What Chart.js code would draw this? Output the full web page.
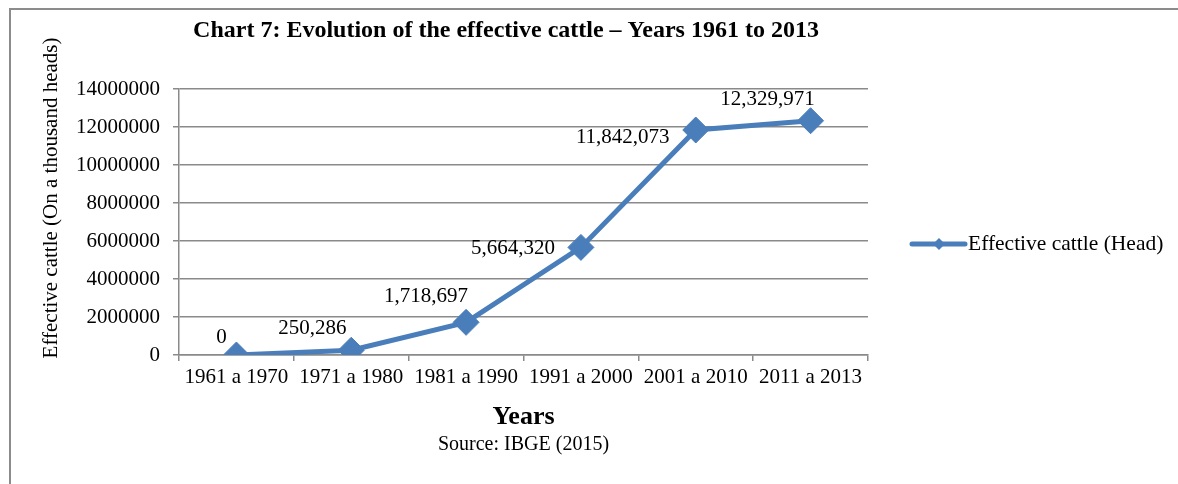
<!DOCTYPE html>
<html>
<head>
<meta charset="utf-8">
<script src="https://cdn.jsdelivr.net/npm/chart.js@4.4.1/dist/chart.umd.min.js"></script>
<style>
  html, body { margin: 0; padding: 0; background: #fff; }
  #wrap { position: relative; width: 1178px; height: 484px; }
  #frame {
    position: absolute; left: 9px; top: 8px; width: 1180px; height: 490px;
    border-left: 2px solid #8c8c8c; border-top: 2px solid #8c8c8c;
  }
  canvas { position: absolute; left: 0; top: 0; }
</style>
</head>
<body>
<div id="wrap">
  <div id="frame"></div>
  <canvas id="cattleChart" width="1178" height="484"></canvas>
</div>
<script>
const periods = ['1961 a 1970', '1971 a 1980', '1981 a 1990', '1991 a 2000', '2001 a 2010', '2011 a 2013'];
const cattleHeads = [0, 250286, 1718697, 5664320, 11842073, 12329971];
const yTicks = [0, 2000000, 4000000, 6000000, 8000000, 10000000, 12000000, 14000000];

const chartTitle = 'Chart 7: Evolution of the effective cattle \u2013 Years 1961 to 2013';
const yTitle = 'Effective cattle (On a thousand heads)';
const xTitle = 'Years';
const sourceNote = 'Source: IBGE (2015)';
const seriesName = 'Effective cattle (Head)';

const SERIF = '"Liberation Serif", "Times New Roman", serif';
const BLUE = '#4a7ebb';
const GRID = '#8a8a8a';

// where each value label sits relative to its marker
const labelShift = [[-15, -18], [-39, -22], [-40, -26], [-68, 1], [-73, 7], [-43, -21]];

const textPlugin = {
  id: 'textPlugin',
  afterDraw(chart) {
    const ctx = chart.ctx;
    const area = chart.chartArea;
    const cx = (area.left + area.right) / 2;
    ctx.save();
    ctx.fillStyle = '#000';

    ctx.font = 'bold 24px ' + SERIF;
    ctx.textAlign = 'center';
    ctx.textBaseline = 'alphabetic';
    ctx.fillText(chartTitle, 506, 37);

    ctx.font = 'bold 26px ' + SERIF;
    ctx.fillText(xTitle, cx, 424);

    ctx.font = '20px ' + SERIF;
    ctx.fillText(sourceNote, cx, 450);

    ctx.save();
    ctx.translate(57, 198);
    ctx.rotate(-Math.PI / 2);
    ctx.font = '21px ' + SERIF;
    ctx.fillText(yTitle, 0, 0);
    ctx.restore();

    // value labels
    const meta = chart.getDatasetMeta(0);
    ctx.font = '21px ' + SERIF;
    ctx.textBaseline = 'middle';
    meta.data.forEach((pt, i) => {
      const [dx, dy] = labelShift[i];
      ctx.fillText(cattleHeads[i].toLocaleString('en-US'), pt.x + dx, pt.y + dy);
    });

    // legend
    const ly = 244;
    ctx.strokeStyle = BLUE;
    ctx.lineWidth = 5;
    ctx.lineCap = 'round';
    ctx.beginPath();
    ctx.moveTo(912, ly);
    ctx.lineTo(965, ly);
    ctx.stroke();
    ctx.fillStyle = BLUE;
    ctx.beginPath();
    ctx.moveTo(939, ly - 6);
    ctx.lineTo(945, ly);
    ctx.lineTo(939, ly + 6);
    ctx.lineTo(933, ly);
    ctx.closePath();
    ctx.fill();
    ctx.fillStyle = '#000';
    ctx.textAlign = 'left';
    ctx.textBaseline = 'middle';
    ctx.font = '21.5px ' + SERIF;
    ctx.fillText(seriesName, 968, ly);
    ctx.restore();
  }
};

const ctx = document.getElementById('cattleChart').getContext('2d');
new Chart(ctx, {
  type: 'line',
  data: {
    labels: periods,
    datasets: [{
      label: seriesName,
      data: cattleHeads,
      borderColor: BLUE,
      backgroundColor: BLUE,
      borderWidth: 5,
      pointStyle: 'rectRot',
      pointRadius: 13,
      pointBorderWidth: 1,
      pointBackgroundColor: BLUE,
      pointBorderColor: BLUE,
      tension: 0,
      fill: false
    }]
  },
  options: {
    responsive: false,
    animation: false,
    layout: { padding: { top: 89, right: 310, left: 0, bottom: 0 } },
    plugins: {
      legend: { display: false },
      title: { display: false },
      tooltip: { enabled: false }
    },
    scales: {
      x: {
        offset: true,
        grid: {
          offset: true,
          drawOnChartArea: false,
          drawTicks: true,
          tickLength: 6,
          color: GRID,
          lineWidth: 1.5
        },
        border: { display: true, color: GRID, width: 1.5 },
        ticks: {
          color: '#000',
          font: { family: SERIF, size: 21 },
          padding: 4,
          maxRotation: 0,
          autoSkip: false
        },
        afterFit(scale) { scale.height = 129; }
      },
      y: {
        min: 0,
        max: 14000000,
        afterBuildTicks(scale) { scale.ticks = yTicks.map(v => ({ value: v })); },
        grid: {
          color: GRID,
          lineWidth: 1.5,
          drawTicks: true,
          tickLength: 6
        },
        border: { display: true, color: GRID, width: 1.5 },
        ticks: {
          color: '#000',
          font: { family: SERIF, size: 21 },
          padding: 13,
          callback: v => String(v)
        },
        afterFit(scale) { scale.width = 179; }
      }
    }
  },
  plugins: [textPlugin]
});
</script>
</body>
</html>
